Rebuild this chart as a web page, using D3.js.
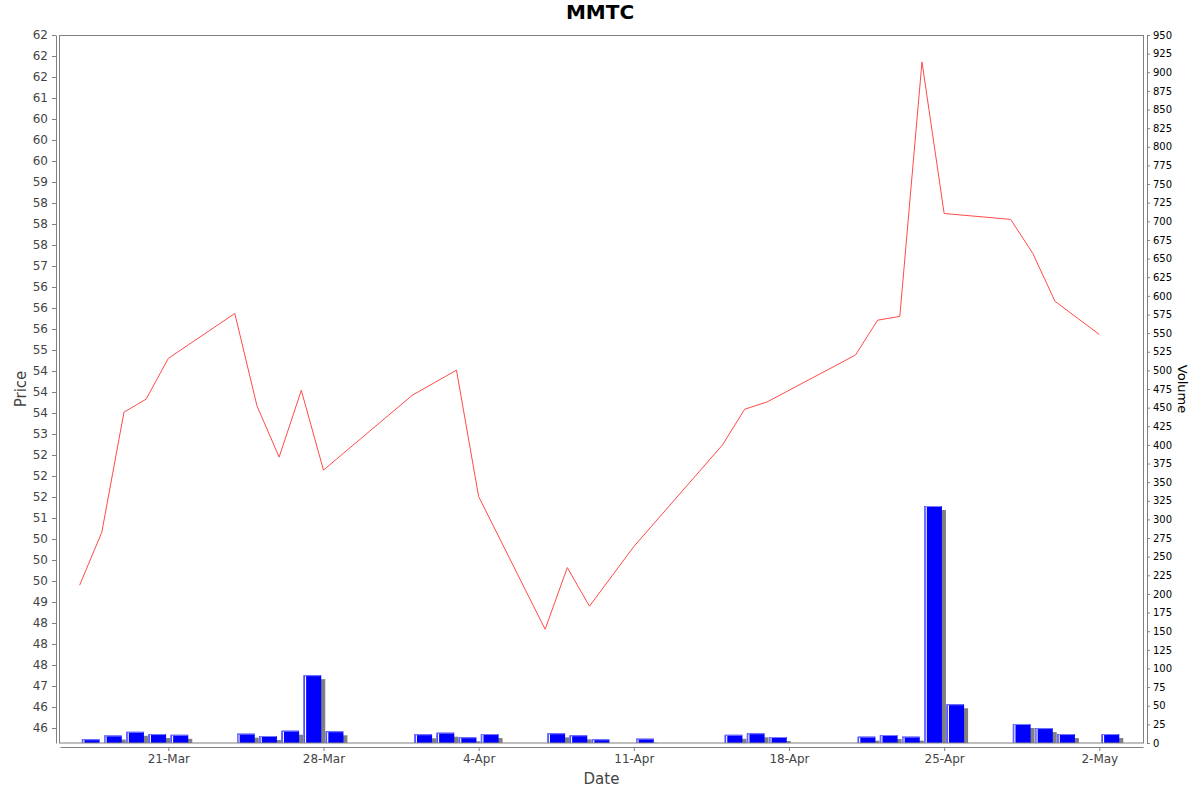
<!DOCTYPE html>
<html>
<head>
<meta charset="utf-8">
<script src="https://cdn.jsdelivr.net/npm/d3@7"></script>
<style>
  body { margin: 0; background: #fff; }
  text { font-family: "DejaVu Sans", sans-serif; }
</style>
</head>
<body>
<script>
// trading days, close price and volume
var dates = ['2025-03-17', '2025-03-18', '2025-03-19', '2025-03-20', '2025-03-21',
             '2025-03-24', '2025-03-25', '2025-03-26', '2025-03-27', '2025-03-28',
             '2025-04-01', '2025-04-02', '2025-04-03', '2025-04-04',
             '2025-04-07', '2025-04-08', '2025-04-09', '2025-04-11',
             '2025-04-15', '2025-04-16', '2025-04-17',
             '2025-04-21', '2025-04-22', '2025-04-23', '2025-04-24', '2025-04-25',
             '2025-04-28', '2025-04-29', '2025-04-30', '2025-05-02']
var price = [49.40, 50.66, 53.52, 53.83, 54.80,
             55.87, 53.67, 52.45, 54.04, 52.14,
             53.92, 54.22, 54.52, 51.51,
             48.35, 49.82, 48.90, 50.32,
             52.74, 53.59, 53.76,
             54.88, 55.71, 55.80, 61.86, 58.25,
             58.11, 57.30, 56.16, 55.37]
var volume = [5, 10, 15, 12, 11,
              12.5, 9.4, 16.5, 91, 15.7,
              11.7, 13.8, 7.6, 12,
              13, 10.3, 4.9, 5.8,
              11, 13, 8,
              8.5, 10.7, 8.5, 318, 52,
              25.5, 20, 12, 12]
var dateTicks = ['2025-03-21', '2025-03-28', '2025-04-04', '2025-04-11', '2025-04-18', '2025-04-25', '2025-05-02']
var priceTicks = d3.range(46, 62.51, 0.5)
var volumeTicks = d3.range(0, 951, 25)

var parse = d3.utcParse('%Y-%m-%d')
var DAY = 864e5
var data = dates.map(function(d, i) {
    return {date: parse(d), price: price[i], volume: volume[i]}
})

var W = 1200, H = 792
var margin = {top: 35, right: 57, bottom: 49, left: 60}
  , width = W - margin.left - margin.right
  , height = H - margin.top - margin.bottom

// x scale: 21-Mar sits at 108px, about 22.17px per day
var x = d3.scaleUtc()
    .domain([new Date(+parse('2025-03-21') - 4.886 * DAY), new Date(+parse('2025-05-02') + 1.971 * DAY)])
    .range([0, width])

var yPrice = d3.scaleLinear()
    .domain([45.643, 62.5])
    .range([height, 0])

var yVol = d3.scaleLinear()
    .domain([0, 950])
    .range([height, 0])

// java style rounding (half even) gives the repeated labels
function halfEven(v) {
    var f = Math.floor(v), r = v - f
    if (Math.abs(r - 0.5) < 1e-9) return String(f % 2 === 0 ? f : f + 1)
    return String(Math.round(v))
}

var root = d3.select('body').append('svg')
    .attr('width', W)
    .attr('height', H)

root.append('text')
    .attr('x', W / 2)
    .attr('y', 19)
    .attr('text-anchor', 'middle')
    .attr('font-weight', 'bold')
    .attr('font-size', '20px')
    .text('MMTC')

var svg = root.append('g')
    .attr('transform', 'translate(' + margin.left + ',' + margin.top + ')')

svg.append('clipPath')
    .attr('id', 'clip')
    .append('rect')
    .attr('width', width)
    .attr('height', height)

// axes, offset 4px from the plot like the original
var xAxis = svg.append('g')
    .attr('transform', 'translate(0,' + (height + 4) + ')')
    .call(d3.axisBottom(x).tickValues(dateTicks.map(parse)).tickFormat(d3.utcFormat('%-d-%b')).tickSize(4).tickSizeOuter(0).tickPadding(3))
xAxis.selectAll('text').attr('font-size', '12px').attr('fill', '#444')
xAxis.append('text')
    .attr('x', width / 2)
    .attr('y', 37)
    .attr('text-anchor', 'middle')
    .attr('fill', '#444')
    .attr('font-size', '15px')
    .text('Date')

var yAxis = svg.append('g')
    .attr('transform', 'translate(-4,0)')
    .call(d3.axisLeft(yPrice).tickValues(priceTicks).tickFormat(halfEven).tickSize(4).tickSizeOuter(0).tickPadding(4))
yAxis.selectAll('text').attr('font-size', '12px').attr('fill', '#444')
yAxis.append('text')
    .attr('transform', 'translate(-30,' + (height / 2) + ') rotate(-90)')
    .attr('text-anchor', 'middle')
    .attr('fill', '#444')
    .attr('font-size', '15px')
    .text('Price')

var vAxis = svg.append('g')
    .attr('transform', 'translate(' + (width + 4) + ',0)')
    .call(d3.axisRight(yVol).tickValues(volumeTicks).tickSize(3).tickSizeOuter(0).tickPadding(3))
vAxis.selectAll('text').attr('font-size', '10px').attr('fill', '#000')
vAxis.append('text')
    .attr('transform', 'translate(31,' + (height / 2) + ') rotate(90)')
    .attr('text-anchor', 'middle')
    .attr('fill', '#000')
    .attr('font-size', '13px')
    .text('Volume')

root.selectAll('.domain, .tick line').attr('stroke', '#808080')

// volume bars with shadow
var bars = svg.append('g').attr('clip-path', 'url(#clip)')

function bx0(d) { return x(new Date(+d.date + 0.1 * DAY)) }
function bx1(d) { return x(new Date(+d.date + 0.9 * DAY)) }

bars.selectAll('.shadow')
    .data(data)
    .enter().append('rect')
    .attr('class', 'shadow')
    .attr('x', function(d) { return bx0(d) + 4 })
    .attr('y', function(d) { return yVol(d.volume) + 4 })
    .attr('width', function(d) { return bx1(d) - bx0(d) })
    .attr('height', function(d) { return height - yVol(d.volume) })
    .attr('fill', '#808080')

bars.selectAll('.bar')
    .data(data)
    .enter().append('rect')
    .attr('class', 'bar')
    .attr('x', bx0)
    .attr('y', function(d) { return yVol(d.volume) })
    .attr('width', function(d) { return bx1(d) - bx0(d) })
    .attr('height', function(d) { return height - yVol(d.volume) })
    .attr('fill', '#0000ff')

// little highlight at the left and top edge of each bar
bars.selectAll('.hi')
    .data(data)
    .enter().append('path')
    .attr('class', 'hi')
    .attr('d', function(d) {
        var x0 = bx0(d) + 0.5, y0 = yVol(d.volume) + 0.5
        return 'M' + x0 + ',' + height + 'V' + y0 + 'H' + (bx1(d) - 0.5)
    })
    .attr('fill', 'none')
    .attr('stroke', '#7b7bff')
bars.selectAll('.gap')
    .data(data)
    .enter().append('line')
    .attr('class', 'gap')
    .attr('x1', function(d) { return bx0(d) + 2 })
    .attr('x2', function(d) { return bx0(d) + 2 })
    .attr('y1', function(d) { return yVol(d.volume) + 1 })
    .attr('y2', height)
    .attr('stroke', '#fff')
    .attr('stroke-width', 1.2)

// price line
svg.append('path')
    .datum(data)
    .attr('fill', 'none')
    .attr('stroke', '#ff4a4a')
    .attr('stroke-width', 1)
    .attr('d', d3.line()
        .x(function(d) { return x(d.date) })
        .y(function(d) { return yPrice(d.price) }))

// plot outline
svg.append('rect')
    .attr('x', -0.5)
    .attr('y', 0.5)
    .attr('width', width + 1)
    .attr('height', height - 0.5)
    .attr('fill', 'none')
    .attr('stroke', '#808080')
</script>
</body>
</html>
